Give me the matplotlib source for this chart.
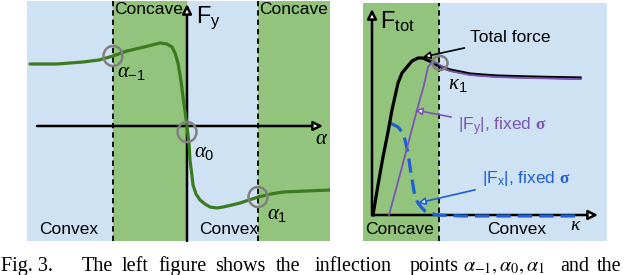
import matplotlib
matplotlib.use("Agg")
import matplotlib.pyplot as plt
from matplotlib.patches import Ellipse

plt.rcParams["font.family"] = ["Liberation Sans", "DejaVu Sans"]
plt.rcParams["mathtext.fontset"] = "custom"
plt.rcParams["mathtext.rm"] = "Liberation Sans"
plt.rcParams["mathtext.it"] = "Liberation Serif:italic"
plt.rcParams["mathtext.bf"] = "Liberation Serif:bold"

LIGHT_BLUE = "#cfe2f3"
GREEN = "#93c47d"
CURVE_GREEN = "#3b7a1e"
GRAY = "#808080"
PURPLE = "#7b55b5"
BLUE = "#1f5fd6"

# left panel: F_y against slip angle (schematic units)
fy_alpha = [-157, -130, -104, -88, -74, -60, -47, -35, -27, -20, -15, -12, -9, -6, -4, -2,
            0, 2, 3, 5, 6, 9, 13, 18, 23, 30, 36, 45, 53, 62, 71, 84, 96, 120, 143]
fy_value = [62, 62, 64, 66, 70, 75, 78, 81, 83, 82, 79, 73, 63, 45, 29, 15,
            0, -18, -34, -50, -59, -68, -74, -78, -81, -82, -81, -79, -77, -74, -71, -68, -66, -65, -64]
inflection_alpha = [-74, 0, 71]
inflection_fy = [70, -6, -71]
inflection_labels = [r"$\alpha_{\mathrm{-1}}$", r"$\alpha_{\mathrm{0}}$", r"$\alpha_{\mathrm{1}}$"]
left_bounds = [-160, -74, 0, 71, 143]
left_kinds = ["Convex", "Concave", "Convex", "Concave"]

# right panel: force magnitude against slip ratio (schematic units)
kappa_total = [1, 6, 11, 16, 20, 26, 30, 35, 40, 46, 51, 55, 60, 65, 72, 78, 88, 98, 110, 125, 140, 158, 180, 208]
f_total = [0, 30, 58, 83, 105, 132, 142, 148, 154, 157, 157, 155, 153, 150, 147, 145, 143, 141, 140, 139, 138.5, 138, 137.5, 137]
kappa_fy = [17, 30, 45, 52, 56, 60, 65, 72, 78, 88, 98, 110, 125, 140, 158, 180, 208]
f_fy = [0, 48, 105, 130, 148, 153, 152, 147, 144, 142, 140, 139, 138, 137.5, 137, 136.5, 136]
kappa_fx = [18, 26, 30, 33, 36, 38, 41, 43, 46, 50, 53, 58, 65, 90, 130, 170, 205]
f_fx = [92, 88, 83, 75, 62, 48, 30, 18, 12, 7, 4, 2, 0, -1, -1, -1, -1]
kappa_inflection = [68]
f_inflection = [152]
right_bounds = [-9, 67, 235]
right_kinds = ["Concave", "Convex"]

# caption, word by word (the original is justified)
caption_words = ["The", "left", "figure", "shows", "the", "inflection", "points",
                 r"$\alpha_{-1}, \alpha_0, \alpha_1$", "and", "the"]
caption_x = [82, 122, 158, 215, 276, 315, 410, 463, 560, 597]

fig = plt.figure(figsize=(6.4, 2.75), dpi=100)
fig.patch.set_facecolor("white")

region_color = {"Convex": LIGHT_BLUE, "Concave": GREEN}

# ---------------- left panel ----------------
axl = fig.add_axes([27 / 640, 34 / 275, 303 / 640, 240 / 275])
axl.set_xlim(left_bounds[0], left_bounds[-1])
axl.set_ylim(-115, 125)
axl.axis("off")

for x0, x1, kind in zip(left_bounds[:-1], left_bounds[1:], left_kinds):
    axl.axvspan(x0, x1, color=region_color[kind], lw=0, zorder=0)
    if kind == "Concave":
        axl.text(x0 + 1, 116, kind, fontsize=12.5, ha="left", va="center", zorder=5)
    else:
        axl.text(x0 + 12, -103, kind, fontsize=12.5, ha="left", va="center", zorder=5)
for x in (left_bounds[1], left_bounds[3]):
    axl.axvline(x, color="black", ls=(0, (3, 2.2)), lw=1.3, zorder=2)

arrow_kw = dict(arrowstyle="-|>", lw=1.8, fc="white", ec="black", mutation_scale=14,
                shrinkA=0, shrinkB=0)
axl.annotate("", xy=(0, 122), xytext=(0, -115), arrowprops=arrow_kw, zorder=3)
axl.annotate("", xy=(136, 0), xytext=(-150, 0), arrowprops=arrow_kw, zorder=3)

axl.plot(fy_alpha, fy_value, color=CURVE_GREEN, lw=2.3, solid_capstyle="round",
         solid_joinstyle="round", zorder=4)
for a, f in zip(inflection_alpha, inflection_fy):
    axl.add_patch(Ellipse((a, f), 19, 20, fill=False, ec=GRAY, lw=1.8, zorder=6))
label_offsets = [(4, -16), (7, -20), (9, -17)]
for a, f, lab, (dx, dy) in zip(inflection_alpha, inflection_fy, inflection_labels, label_offsets):
    axl.text(a + dx, f + dy, lab, fontsize=15, ha="left", va="center", zorder=6)

axl.text(9, 108, r"$\mathrm{F}_{\mathrm{y}}$", fontsize=17, ha="left", va="center", zorder=6)
axl.text(128, -12, r"$\alpha$", fontsize=15, ha="left", va="center", zorder=6)

# ---------------- right panel ----------------
axr = fig.add_axes([363 / 640, 34 / 275, 244 / 640, 238 / 275])
axr.set_xlim(right_bounds[0], right_bounds[-1])
axr.set_ylim(-26, 212)
axr.axis("off")

for x0, x1, kind in zip(right_bounds[:-1], right_bounds[1:], right_kinds):
    axr.axvspan(x0, x1, color=region_color[kind], lw=0, zorder=0)
axr.axvline(right_bounds[1], color="black", ls=(0, (3, 2.2)), lw=1.3, zorder=2)
axr.text(-7, -15, "Concave", fontsize=12.5, ha="left", va="center", zorder=5)
axr.text(115, -15, "Convex", fontsize=12.5, ha="left", va="center", zorder=5)

axr.annotate("", xy=(0, 206), xytext=(0, 0), arrowprops=arrow_kw, zorder=3)
axr.annotate("", xy=(226, 0), xytext=(0, 0), arrowprops=arrow_kw, zorder=3)

axr.plot(kappa_fx, f_fx, color=BLUE, lw=2.3, ls=(0, (4.5, 2.2)), zorder=4)
axr.plot(kappa_total, f_total, color="black", lw=2.3, solid_joinstyle="round", zorder=4)
axr.plot(kappa_fy, f_fy, color=PURPLE, lw=1.3, zorder=5)
for k, f in zip(kappa_inflection, f_inflection):
    axr.add_patch(Ellipse((k, f), 15, 14, fill=False, ec=GRAY, lw=1.8, zorder=6))

axr.text(8, 193, r"$\mathrm{F}_{\mathrm{tot}}$", fontsize=17, ha="left", va="center", zorder=6)
axr.text(198, -11, r"$\kappa$", fontsize=14, ha="left", va="center", zorder=6)
axr.text(76, 130, r"$\kappa_{\mathrm{1}}$", fontsize=15, ha="left", va="center", zorder=6)

axr.annotate("Total force", xy=(51, 158), xytext=(98, 177), fontsize=12.5, va="center",
             ha="left", zorder=6,
             arrowprops=dict(arrowstyle="-|>", lw=1.2, fc="white", ec="black",
                             mutation_scale=11, shrinkA=2, shrinkB=0))
axr.annotate(r"|F$_{\mathrm{y}}$|, fixed $\mathbf{\sigma}$", xy=(43, 105), xytext=(86, 88),
             fontsize=12.5, color=PURPLE, va="center", ha="left", zorder=6,
             arrowprops=dict(arrowstyle="-|>", lw=1.2, fc="white", ec=PURPLE,
                             mutation_scale=11, shrinkA=3, shrinkB=0))
axr.annotate(r"|F$_{\mathrm{x}}$|, fixed $\mathbf{\sigma}$", xy=(46, 12), xytext=(110, 37),
             fontsize=12.5, color=BLUE, va="center", ha="left", zorder=6,
             arrowprops=dict(arrowstyle="-|>", lw=1.2, fc="white", ec=BLUE,
                             mutation_scale=11, shrinkA=3, shrinkB=0))

# ---------------- caption ----------------
cap_kw = dict(fontsize=14.5, family="Liberation Serif", va="baseline", ha="left",
              math_fontfamily="stix")
fig.text(1 / 640, 4 / 275, "Fig. 3.", **cap_kw)
for word, px in zip(caption_words, caption_x):
    fig.text(px / 640, 4 / 275, word, **cap_kw)

fig.savefig("out.png", dpi=100, facecolor="white")
